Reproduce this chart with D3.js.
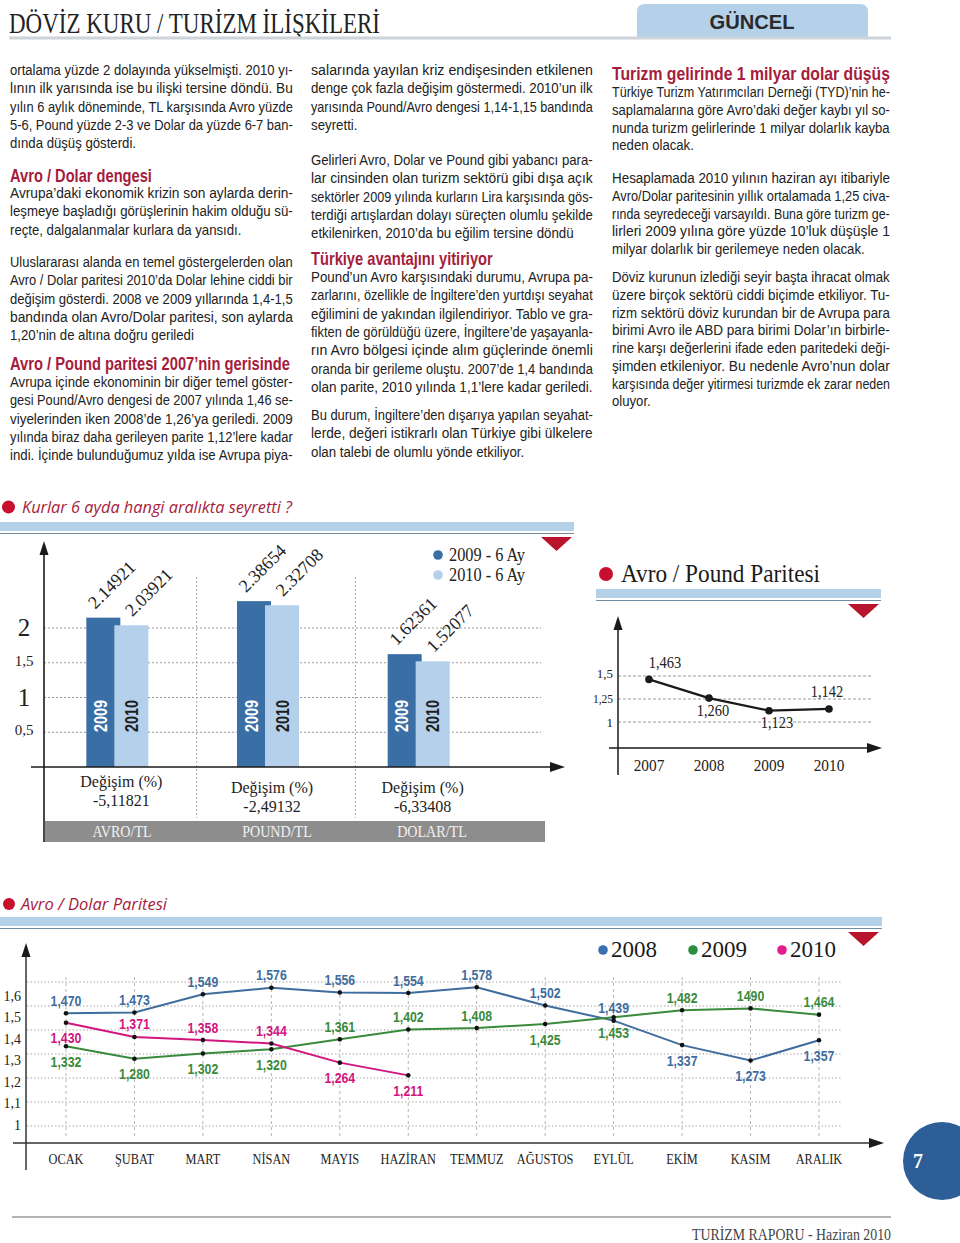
<!DOCTYPE html>
<html><head><meta charset="utf-8">
<script src="https://cdn.jsdelivr.net/npm/d3@7"></script>
<style>
body{margin:0;background:#fff;}
svg{display:block;}
</style></head><body>
<svg id="page" width="960" height="1243"></svg>
<script>
// ================= DATA =================
// Bar chart: "Kurlar 6 ayda hangi aralıkta seyretti ?"
const barCategories = ["AVRO/TL", "POUND/TL", "DOLAR/TL"];
const barYears = ["2009", "2010"];
const barLegend = ["2009 - 6 Ay", "2010 - 6 Ay"];
const bar2009 = [2.14921, 2.38654, 1.62361];
const bar2010 = [2.03921, 2.32708, 1.52077];
const barChange = ["-5,11821", "-2,49132", "-6,33408"];
const barTicks = [0.5, 1, 1.5, 2];
const barTickLabels = ["0,5", "1", "1,5", "2"];

// Avro / Pound Paritesi
const poundYears = ["2007", "2008", "2009", "2010"];
const poundValues = [1.463, 1.260, 1.123, 1.142];
const poundValueLabels = ["1,463", "1,260", "1,123", "1,142"];
const poundTicks = [1, 1.25, 1.5];
const poundTickLabels = ["1", "1,25", "1,5"];

// Avro / Dolar Paritesi
const months = ["OCAK", "ŞUBAT", "MART", "NİSAN", "MAYIS", "HAZİRAN", "TEMMUZ", "AĞUSTOS", "EYLÜL", "EKİM", "KASIM", "ARALIK"];
const usdSeries = ["2008", "2009", "2010"];
const usd2008 = [1.470, 1.473, 1.549, 1.576, 1.556, 1.554, 1.578, 1.502, 1.439, 1.337, 1.273, 1.357];
const usd2009 = [1.332, 1.280, 1.302, 1.320, 1.361, 1.402, 1.408, 1.425, 1.453, 1.482, 1.490, 1.464];
const usd2010 = [1.430, 1.371, 1.358, 1.344, 1.264, 1.211];
const usdText2008 = ["1,470", "1,473", "1,549", "1,576", "1,556", "1,554", "1,578", "1,502", "1,439", "1,337", "1,273", "1,357"];
const usdText2009 = ["1,332", "1,280", "1,302", "1,320", "1,361", "1,402", "1,408", "1,425", "1,453", "1,482", "1490", "1,464"];
const usdText2010 = ["1,430", "1,371", "1,358", "1,344", "1,264", "1,211"];
const usdTicks = [1, 1.1, 1.2, 1.3, 1.4, 1.5, 1.6];
const usdTickLabels = ["1", "1,1", "1,2", "1,3", "1,4", "1,5", "1,6"];

// Page copy
const headerTitle = "DÖVİZ KURU / TURİZM İLİŞKİLERİ";
const headerTab = "GÜNCEL";
const footerText = "TURİZM RAPORU - Haziran 2010";
const pageNumber = "7";

// lines: [text] = justified to column width; [text, "n"] = natural (last line); headings [text, width]
const textCols = [
  { x: 10, w: 283, step: 18.25, blocks: [
    { y: 70, lines: [["ortalama yüzde 2 dolayında yükselmişti. 2010 yı-"], ["lının ilk yarısında ise bu ilişki tersine döndü. Bu"], ["yılın 6 aylık döneminde, TL karşısında Avro yüzde"], ["5-6, Pound yüzde 2-3 ve Dolar da yüzde 6-7 ban-"], ["dında düşüş gösterdi.", "n"]] },
    { y: 175, h: true, lines: [["Avro / Dolar dengesi", 142]] },
    { y: 193, lines: [["Avrupa’daki ekonomik krizin son aylarda derin-"], ["leşmeye başladığı görüşlerinin hakim olduğu sü-"], ["reçte, dalgalanmalar kurlara da yansıdı.", "n"]] },
    { y: 262, lines: [["Uluslararası alanda en temel göstergelerden olan"], ["Avro / Dolar paritesi 2010’da Dolar lehine ciddi bir"], ["değişim gösterdi. 2008 ve 2009 yıllarında 1,4-1,5"], ["bandında olan Avro/Dolar paritesi, son aylarda"], ["1,20’nin de altına doğru geriledi", "n"]] },
    { y: 363, h: true, lines: [["Avro / Pound paritesi 2007’nin gerisinde", 280]] },
    { y: 382, lines: [["Avrupa içinde ekonominin bir diğer temel göster-"], ["gesi Pound/Avro dengesi de 2007 yılında 1,46 se-"], ["viyelerinden iken 2008’de 1,26’ya geriledi. 2009"], ["yılında biraz daha gerileyen parite 1,12’lere kadar"], ["indi. İçinde bulunduğumuz yılda ise Avrupa piya-"]] }
  ]},
  { x: 311, w: 282, step: 18.3, blocks: [
    { y: 70, lines: [["salarında yayılan kriz endişesinden etkilenen"], ["denge çok fazla değişim göstermedi. 2010’un ilk"], ["yarısında Pound/Avro dengesi 1,14-1,15 bandında"], ["seyretti.", "n"]] },
    { y: 160, lines: [["Gelirleri Avro, Dolar ve Pound gibi yabancı para-"], ["lar cinsinden olan turizm sektörü gibi dışa açık"], ["sektörler 2009 yılında kurların Lira karşısında gös-"], ["terdiği artışlardan dolayı süreçten olumlu şekilde"], ["etkilenirken, 2010’da bu eğilim tersine döndü", "n"]] },
    { y: 258, h: true, lines: [["Türkiye avantajını yitiriyor", 182]] },
    { y: 277, lines: [["Pound’un Avro karşısındaki durumu, Avrupa pa-"], ["zarlarını, özellikle de İngiltere’den yurtdışı seyahat"], ["eğilimini de yakından ilgilendiriyor. Tablo ve gra-"], ["fikten de görüldüğü üzere, İngiltere’de yaşayanla-"], ["rın Avro bölgesi içinde alım güçlerinde önemli"], ["oranda bir gerileme oluştu. 2007’de 1,4 bandında"], ["olan parite, 2010 yılında 1,1’lere kadar geriledi."]] },
    { y: 415, lines: [["Bu durum, İngiltere’den dışarıya yapılan seyahat-"], ["lerde, değeri istikrarlı olan Türkiye gibi ülkelere"], ["olan talebi de olumlu yönde etkiliyor.", "n"]] }
  ]},
  { x: 612, w: 278, step: 17.75, blocks: [
    { y: 73, h: true, lines: [["Turizm gelirinde 1 milyar dolar düşüş", 278]] },
    { y: 92, lines: [["Türkiye Turizm Yatırımcıları Derneği (TYD)’nin he-"], ["saplamalarına göre Avro’daki değer kaybı yıl so-"], ["nunda turizm gelirlerinde 1 milyar dolarlık kayba"], ["neden olacak.", "n"]] },
    { y: 178, lines: [["Hesaplamada 2010 yılının haziran ayı itibariyle"], ["Avro/Dolar paritesinin yıllık ortalamada 1,25 civa-"], ["rında seyredeceği varsayıldı. Buna göre turizm ge-"], ["lirleri 2009 yılına göre yüzde 10’luk düşüşle 1"], ["milyar dolarlık bir gerilemeye neden olacak.", "n"]] },
    { y: 277, lines: [["Döviz kurunun izlediği seyir başta ihracat olmak"], ["üzere birçok sektörü ciddi biçimde etkiliyor. Tu-"], ["rizm sektörü döviz kurundan bir de Avrupa para"], ["birimi Avro ile ABD para birimi Dolar’ın birbirle-"], ["rine karşı değerlerini ifade eden paritedeki deği-"], ["şimden etkileniyor. Bu nedenle Avro’nun dolar"], ["karşısında değer yitirmesi turizmde ek zarar neden"], ["oluyor.", "n"]] }
  ]}
];

// ================= STYLE =================
const SERIF = '"Liberation Serif","DejaVu Serif",serif';
const SANS = '"Liberation Sans Narrow","Liberation Sans","Roboto",sans-serif';
const ITAL = '"Open Sans","Noto Sans","Liberation Sans",sans-serif';
const CRIMSON = "#a61c3c";
const RED = "#c8102e";
const TRI = "#b8142d";
const BAND = "#b4d1ea";
const BANDLINE = "#6e8ea8";
const C2009 = "#3a6fa5";
const C2010 = "#b4d0ea";
const USD_COLORS = { "2008": "#3f6d9e", "2009": "#3a8a3c", "2010": "#d2157f" };
const USD_LEGEND = { "2008": "#3a6fae", "2009": "#2f8d3f", "2010": "#e21f8c" };

const svg = d3.select("#page");

function condense(sel, k) {
  sel.each(function () {
    const L = this.getComputedTextLength();
    d3.select(this).attr("textLength", L * k).attr("lengthAdjust", "spacingAndGlyphs");
  });
  return sel;
}
function arrowUp(g, x, y) {
  g.append("path").attr("d", `M${x},${y} L${x - 4.5},${y + 14} L${x + 4.5},${y + 14} Z`).attr("fill", "#1a1a1a");
}
function arrowRight(g, x, y) {
  g.append("path").attr("d", `M${x},${y} L${x - 15},${y - 5} L${x - 15},${y + 5} Z`).attr("fill", "#1a1a1a");
}
function sectionBand(g, x0, x1, y, triX) {
  g.append("rect").attr("x", x0).attr("y", y).attr("width", x1 - x0).attr("height", 9).attr("fill", BAND);
  g.append("line").attr("x1", x0).attr("x2", x1).attr("y1", y + 11.5).attr("y2", y + 11.5).attr("stroke", BANDLINE).attr("stroke-width", 1.2);
  g.append("path").attr("d", `M${triX},${y + 15} L${triX + 31},${y + 15} L${triX + 15.5},${y + 29} Z`).attr("fill", TRI);
}

// ================= HEADER =================
const header = svg.append("g");
header.append("text").attr("x", 9).attr("y", 33).attr("font-family", SERIF).attr("font-size", 29)
  .attr("fill", "#222").attr("textLength", 371).attr("lengthAdjust", "spacingAndGlyphs").text(headerTitle);
header.append("path").attr("d", "M637,38 V12 Q637,4 645,4 H860 Q868,4 868,12 V38 Z").attr("fill", "#b5d1ea");
header.append("text").attr("x", 752).attr("y", 29).attr("text-anchor", "middle").attr("font-family", SANS)
  .attr("font-weight", "bold").attr("font-size", 21).attr("fill", "#2a2a2a")
  .attr("textLength", 85).attr("lengthAdjust", "spacingAndGlyphs").text(headerTab);
header.append("line").attr("x1", 9).attr("x2", 891).attr("y1", 38).attr("y2", 38).attr("stroke", "#cdd3d9").attr("stroke-width", 3);

// ================= BODY TEXT =================
// lines are squeezed horizontally with a transform so each line fits its column
const body = svg.append("g");
textCols.forEach(col => {
  const items = [];
  col.blocks.forEach(b => {
    b.lines.forEach((ln, i) => {
      const cy = b.y + i * col.step;
      const baseY = cy + (b.h ? 6.5 : 5);
      const t = body.append("text")
        .attr("x", 0).attr("y", 0)
        .attr("font-family", SANS)
        .attr("font-size", b.h ? 18 : 15)
        .attr("font-weight", b.h ? "bold" : "normal")
        .attr("fill", b.h ? CRIMSON : "#222")
        .text(ln[0]);
      items.push({ t, ln, h: b.h, baseY, nat: t.node().getComputedTextLength() });
    });
  });
  const just = items.filter(d => !d.h && d.ln.length === 1);
  const r = d3.mean(just, d => col.w / d.nat);
  items.forEach(d => {
    let target;
    if (d.h) target = d.ln[1];
    else if (d.ln[1] === "n") target = Math.min(col.w, d.nat * r);
    else target = col.w;
    const k = target / d.nat;
    d.t.attr("transform", `translate(${col.x},${d.baseY}) scale(${k.toFixed(4)},1)`);
  });
});

// ================= BAR CHART =================
const gb = svg.append("g");
gb.append("circle").attr("cx", 8.5).attr("cy", 507).attr("r", 6.5).attr("fill", RED);
gb.append("text").attr("x", 22).attr("y", 513).attr("font-family", ITAL).attr("font-style", "italic")
  .attr("font-size", 17).attr("fill", CRIMSON).attr("textLength", 270).attr("lengthAdjust", "spacingAndGlyphs")
  .text("Kurlar 6 ayda hangi aralıkta seyretti ?");
sectionBand(gb, 0, 574, 522, 541);

const bx = d3.scaleBand().domain(barCategories).range([42, 494]);
const bsub = d3.scalePoint().domain(barYears).range([-14, 14]);
const by = d3.scaleLinear().domain([0, 2]).range([767, 628]);
const barW = 34;
const bcx = c => bx(c) + bx.bandwidth() / 2;
const stripX = d3.scalePoint().domain(barCategories).range([122, 432]);

gb.selectAll(".bgrid").data(barTicks).enter().append("line")
  .attr("x1", 44).attr("x2", 541).attr("y1", d => by(d)).attr("y2", d => by(d))
  .attr("stroke", "#9a9a9a").attr("stroke-width", 1).attr("stroke-dasharray", "2,2");
gb.selectAll(".bsep").data(barCategories.slice(1)).enter().append("line")
  .attr("x1", (d, i) => bx(d) + 4 + i * 8).attr("x2", (d, i) => bx(d) + 4 + i * 8).attr("y1", 577).attr("y2", 818)
  .attr("stroke", "#aaa").attr("stroke-width", 1).attr("stroke-dasharray", "2,2");

gb.selectAll(".btick").data(barTicks).enter().append("text")
  .attr("x", 24).attr("y", d => by(d) + (Number.isInteger(d) ? 8 : 3))
  .attr("text-anchor", "middle").attr("font-family", SERIF)
  .attr("font-size", d => Number.isInteger(d) ? 25 : 15).attr("fill", "#222")
  .text((d, i) => barTickLabels[i]);

const barRows = [];
barCategories.forEach((c, i) => {
  barRows.push({ c, year: "2009", v: bar2009[i] });
  barRows.push({ c, year: "2010", v: bar2010[i] });
});
gb.selectAll(".bar").data(barRows).enter().append("rect")
  .attr("x", d => bcx(d.c) + bsub(d.year) - barW / 2)
  .attr("y", d => by(d.v))
  .attr("width", barW)
  .attr("height", d => by(0) - by(d.v))
  .attr("fill", d => d.year === "2009" ? C2009 : C2010);

gb.selectAll(".byl").data(barRows).enter().append("text")
  .attr("transform", d => `translate(${bcx(d.c) + bsub(d.year) + (d.year === "2009" ? -3 : 0) + 6.5},732) rotate(-90)`)
  .attr("font-family", SANS).attr("font-weight", "bold").attr("font-size", 18)
  .attr("fill", d => d.year === "2009" ? "#fff" : "#1e1e1e")
  .attr("textLength", 32).attr("lengthAdjust", "spacingAndGlyphs")
  .text(d => d.year);

gb.selectAll(".bval").data(barRows).enter().append("text")
  .attr("transform", d => `translate(${bcx(d.c) + bsub(d.year) + (d.year === "2009" ? -8 : 1)},${by(d.v) - 8}) rotate(-45)`)
  .attr("font-family", SERIF).attr("font-size", 18).attr("fill", "#222")
  .text(d => String(d.v));

gb.append("line").attr("x1", 44).attr("x2", 44).attr("y1", 552).attr("y2", 842).attr("stroke", "#1a1a1a").attr("stroke-width", 1.6);
arrowUp(gb, 44, 541);
gb.append("line").attr("x1", 31).attr("x2", 552).attr("y1", 767).attr("y2", 767).attr("stroke", "#1a1a1a").attr("stroke-width", 1.6);
arrowRight(gb, 565, 767);

const changeRowY = [781, 787, 787];
gb.selectAll(".bch1").data(barCategories).enter().append("text")
  .attr("x", d => bcx(d) + 4).attr("y", (d, i) => changeRowY[i] + 6)
  .attr("text-anchor", "middle").attr("font-family", SERIF).attr("font-size", 16).attr("fill", "#222")
  .text("Değişim (%)");
gb.selectAll(".bch2").data(barCategories).enter().append("text")
  .attr("x", d => bcx(d) + 4).attr("y", (d, i) => changeRowY[i] + 25)
  .attr("text-anchor", "middle").attr("font-family", SERIF).attr("font-size", 16).attr("fill", "#222")
  .text((d, i) => barChange[i]);

gb.append("rect").attr("x", 45).attr("y", 821).attr("width", 500).attr("height", 21).attr("fill", "#8d8d8d");
condense(gb.selectAll(".bstrip").data(barCategories).enter().append("text")
  .attr("x", d => stripX(d)).attr("y", 837).attr("text-anchor", "middle")
  .attr("font-family", SERIF).attr("font-size", 16).attr("fill", "#f1f1f1")
  .text(d => d), 0.88);

const bleg = gb.selectAll(".bleg").data(barYears).enter().append("g")
  .attr("transform", (d, i) => `translate(438,${555 + i * 20})`);
bleg.append("circle").attr("r", 4.8).attr("fill", d => d === "2009" ? C2009 : C2010);
bleg.append("text").attr("x", 11).attr("y", 6).attr("font-family", SERIF).attr("font-size", 18).attr("fill", "#222")
  .attr("textLength", 76).attr("lengthAdjust", "spacingAndGlyphs")
  .text((d, i) => barLegend[i]);

// ================= AVRO / POUND =================
const gp = svg.append("g");
gp.append("circle").attr("cx", 606).attr("cy", 574).attr("r", 7).attr("fill", RED);
gp.append("text").attr("x", 621).attr("y", 582).attr("font-family", SERIF).attr("font-size", 25).attr("fill", "#1a1a1a")
  .attr("textLength", 199).attr("lengthAdjust", "spacingAndGlyphs").text("Avro / Pound Paritesi");
sectionBand(gp, 596, 881, 589, 848);

const px = d3.scalePoint().domain(poundYears).range([649, 829]);
const py = d3.scaleLinear().domain([1, 1.5]).range([722, 676]);

gp.selectAll(".pgrid").data(poundTicks).enter().append("line")
  .attr("x1", 618).attr("x2", 873).attr("y1", d => py(d)).attr("y2", d => py(d))
  .attr("stroke", "#9a9a9a").attr("stroke-dasharray", "3,2").attr("stroke-width", 1);
gp.selectAll(".ptick").data(poundTicks).enter().append("text")
  .attr("x", 613).attr("y", d => py(d) + (d === 1.5 ? -3 : 0))
  .attr("dominant-baseline", "central")
  .attr("text-anchor", "end").attr("font-family", SERIF)
  .attr("font-size", (d, i) => poundTickLabels[i].length > 3 ? 11.5 : 13).attr("fill", "#222")
  .text((d, i) => poundTickLabels[i]);

gp.append("line").attr("x1", 618).attr("x2", 618).attr("y1", 628).attr("y2", 775).attr("stroke", "#1a1a1a").attr("stroke-width", 1.5);
arrowUp(gp, 618, 616);
gp.append("line").attr("x1", 609).attr("x2", 870).attr("y1", 748).attr("y2", 748).attr("stroke", "#1a1a1a").attr("stroke-width", 1.5);
arrowRight(gp, 882, 748);

gp.append("path").datum(poundValues)
  .attr("d", d3.line().x((d, i) => px(poundYears[i])).y(d => py(d)))
  .attr("fill", "none").attr("stroke", "#1a1a1a").attr("stroke-width", 2.2);
gp.selectAll(".pdot").data(poundValues).enter().append("circle")
  .attr("cx", (d, i) => px(poundYears[i])).attr("cy", d => py(d)).attr("r", 3.8).attr("fill", "#1a1a1a");
const poundPlace = ["a", "b", "b", "a"];
const poundDx = [16, 4, 8, -2];
condense(gp.selectAll(".pval").data(poundValues).enter().append("text")
  .attr("x", (d, i) => px(poundYears[i]) + poundDx[i])
  .attr("y", (d, i) => py(d) + (poundPlace[i] === "a" ? -17 : 12))
  .attr("dominant-baseline", "central").attr("text-anchor", "middle")
  .attr("font-family", SERIF).attr("font-size", 17).attr("fill", "#222")
  .text((d, i) => poundValueLabels[i]), 0.85);
condense(gp.selectAll(".pyear").data(poundYears).enter().append("text")
  .attr("x", d => px(d)).attr("y", 771).attr("text-anchor", "middle")
  .attr("font-family", SERIF).attr("font-size", 17).attr("fill", "#222")
  .text(d => d), 0.9);

// ================= AVRO / DOLAR =================
const gd = svg.append("g");
gd.append("circle").attr("cx", 9).attr("cy", 904).attr("r", 6).attr("fill", RED);
gd.append("text").attr("x", 21).attr("y", 910).attr("font-family", ITAL).attr("font-style", "italic")
  .attr("font-size", 17).attr("fill", CRIMSON).attr("textLength", 146).attr("lengthAdjust", "spacingAndGlyphs")
  .text("Avro / Dolar Paritesi");
sectionBand(gd, 0, 882, 917, 848);

const mx = d3.scalePoint().domain(months).range([66, 819]);
const uy = d3.scaleLinear().domain([1, 1.6]).range([1126, 982]);
const uyLabel = d3.scaleLinear().domain([1, 1.6]).range([1125, 996]);

gd.selectAll(".ugrid").data(usdTicks).enter().append("line")
  .attr("x1", 27).attr("x2", 842).attr("y1", d => uy(d)).attr("y2", d => uy(d))
  .attr("stroke", "#a5a5a5").attr("stroke-width", 1).attr("stroke-dasharray", "1.5,2");
gd.selectAll(".uvgrid").data(months).enter().append("line")
  .attr("x1", d => mx(d)).attr("x2", d => mx(d)).attr("y1", 977).attr("y2", 1138)
  .attr("stroke", "#b5b5b5").attr("stroke-width", 1).attr("stroke-dasharray", "3,3");
gd.selectAll(".utick").data(usdTicks).enter().append("text")
  .attr("x", 21).attr("y", d => uyLabel(d)).attr("dominant-baseline", "central")
  .attr("text-anchor", "end").attr("font-family", SERIF).attr("font-size", 14).attr("fill", "#222")
  .text((d, i) => usdTickLabels[i]);

gd.append("line").attr("x1", 26).attr("x2", 26).attr("y1", 955).attr("y2", 1170).attr("stroke", "#333").attr("stroke-width", 1.5);
arrowUp(gd, 26, 943);
gd.append("line").attr("x1", 13).attr("x2", 872).attr("y1", 1143).attr("y2", 1143).attr("stroke", "#333").attr("stroke-width", 1.5);
arrowRight(gd, 884, 1143);

condense(gd.selectAll(".umonth").data(months).enter().append("text")
  .attr("x", d => mx(d)).attr("y", 1164).attr("text-anchor", "middle")
  .attr("font-family", SERIF).attr("font-size", 14.5).attr("fill", "#222")
  .text(d => d), 0.85);

const usdData = { "2008": usd2008, "2009": usd2009, "2010": usd2010 };
const usdText = { "2008": usdText2008, "2009": usdText2009, "2010": usdText2010 };
const usdPlace = { "2008": "aaaaaaaaabbb", "2009": "bbbbaaabbaaa", "2010": "baaabb" };
const uline = d3.line().x((d, i) => mx(months[i])).y(d => uy(d));

usdSeries.forEach(s => {
  gd.append("path").datum(usdData[s]).attr("d", uline)
    .attr("fill", "none").attr("stroke", USD_COLORS[s]).attr("stroke-width", 2);
});
usdSeries.forEach(s => {
  gd.selectAll(".udot" + s).data(usdData[s]).enter().append("circle")
    .attr("cx", (d, i) => mx(months[i])).attr("cy", d => uy(d)).attr("r", 2.3).attr("fill", "#111");
});
usdSeries.forEach(s => {
  condense(gd.selectAll(".ulab" + s).data(usdData[s]).enter().append("text")
    .attr("x", (d, i) => mx(months[i]))
    .attr("y", (d, i) => uy(d) + (usdPlace[s][i] === "a" ? -13 : 15))
    .attr("dominant-baseline", "central").attr("text-anchor", "middle")
    .attr("font-family", SANS).attr("font-weight", "bold").attr("font-size", 15)
    .attr("fill", USD_COLORS[s])
    .text((d, i) => usdText[s][i]), 0.82);
});

const uLegX = { "2008": 603, "2009": 693, "2010": 782 };
usdSeries.forEach(s => {
  gd.append("circle").attr("cx", uLegX[s]).attr("cy", 950).attr("r", 4.8).attr("fill", USD_LEGEND[s]);
  gd.append("text").attr("x", uLegX[s] + 8).attr("y", 957).attr("font-family", SERIF).attr("font-size", 23)
    .attr("fill", "#1a1a1a").attr("textLength", 46).attr("lengthAdjust", "spacingAndGlyphs").text(s);
});

// ================= FOOTER =================
const gf = svg.append("g");
gf.append("circle").attr("cx", 942).attr("cy", 1161).attr("r", 39).attr("fill", "#2d5e97");
gf.append("text").attr("x", 918).attr("y", 1161).attr("dominant-baseline", "central").attr("text-anchor", "middle")
  .attr("font-family", SERIF).attr("font-weight", "bold").attr("font-size", 20).attr("fill", "#fff").text(pageNumber);
gf.append("line").attr("x1", 12).attr("x2", 891).attr("y1", 1217).attr("y2", 1217).attr("stroke", "#9a9a9a").attr("stroke-width", 1.5);
gf.append("text").attr("x", 891).attr("y", 1240).attr("text-anchor", "end").attr("font-family", SERIF)
  .attr("font-size", 17).attr("fill", "#444").attr("textLength", 199).attr("lengthAdjust", "spacingAndGlyphs")
  .text(footerText);
</script>
</body></html>
